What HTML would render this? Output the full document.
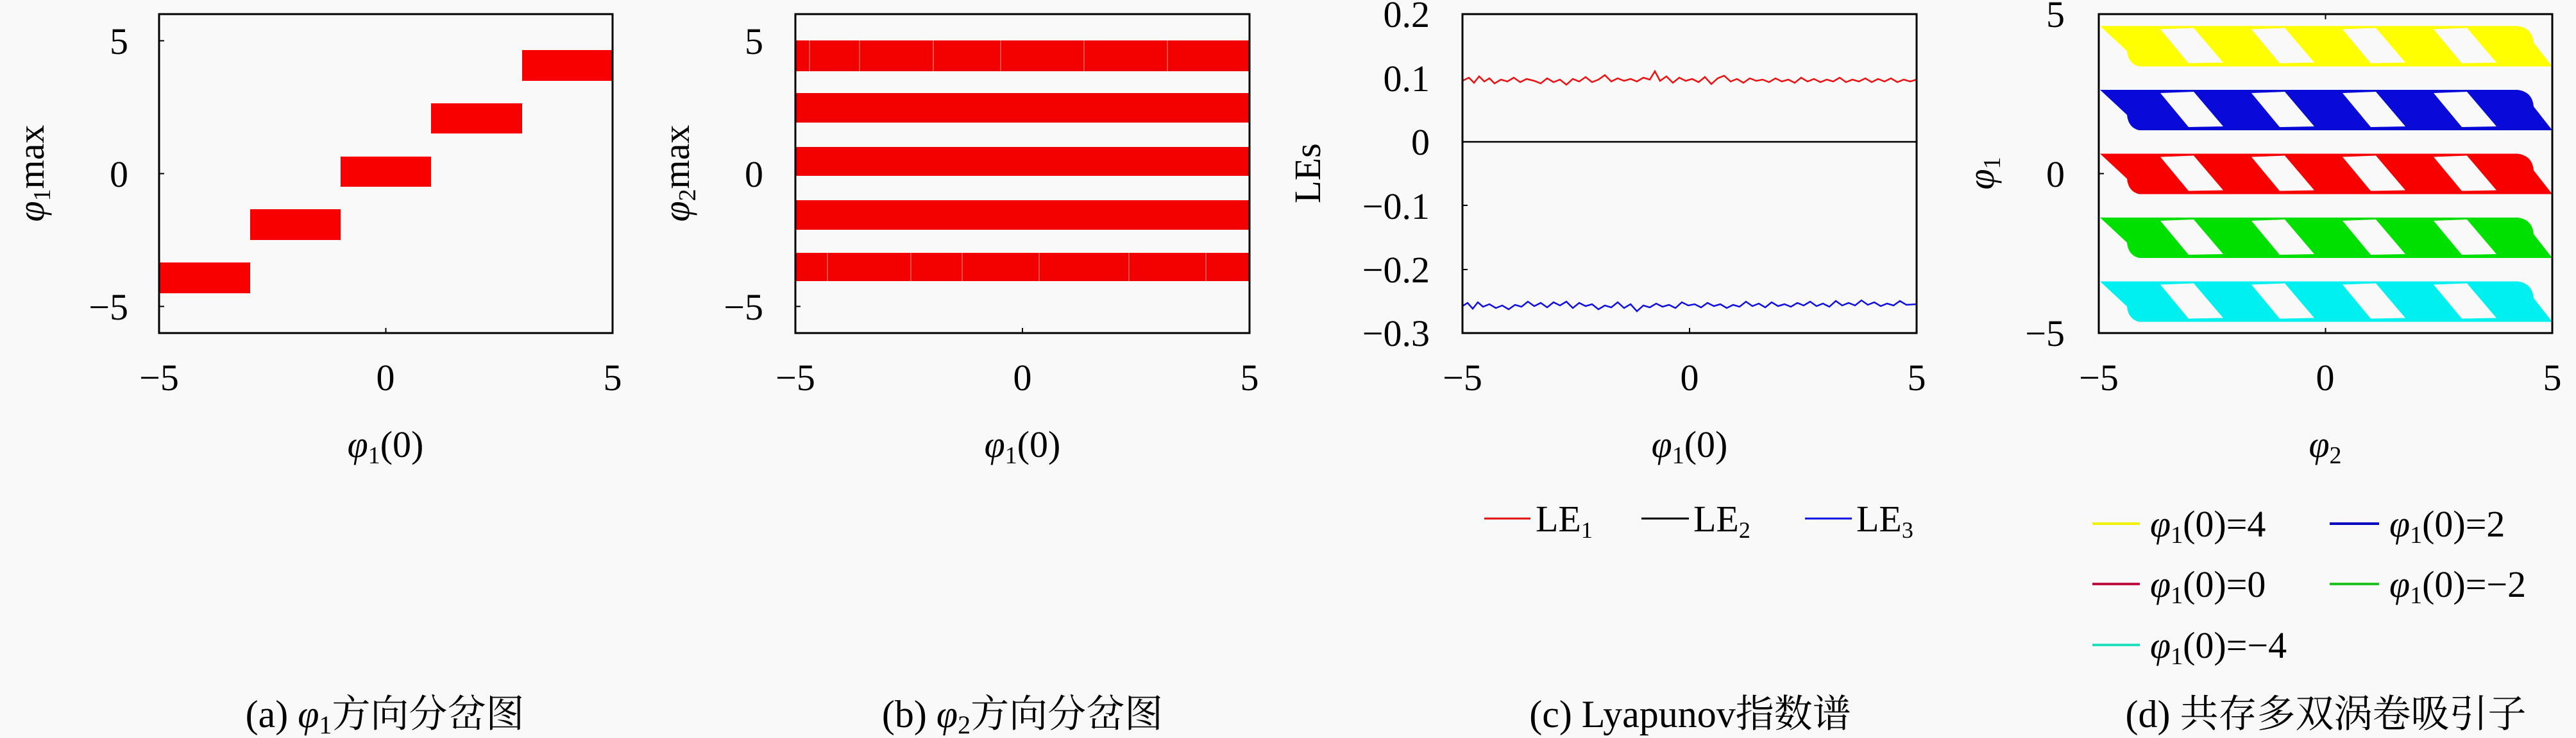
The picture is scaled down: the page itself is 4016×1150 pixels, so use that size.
<!DOCTYPE html>
<html><head><meta charset="utf-8"><style>
html,body{margin:0;padding:0;background:#f9f9f9;}
svg{display:block;}
text{font-family:"Liberation Serif","Noto Serif CJK SC",serif;fill:#000;}
.t{font-size:58px;}
.i{font-style:italic;}
.cap{font-size:60px;font-family:"Liberation Serif","Noto Serif CJK SC",serif;}
</style></head><body>
<svg width="4016" height="1150" viewBox="0 0 4016 1150" xmlns="http://www.w3.org/2000/svg">
<rect width="4016" height="1150" fill="#f9f9f9"/>

<!-- ===== (a) ===== -->
<g fill="#f80000">
<rect x="814" y="78" width="141" height="48"/>
<rect x="672" y="161" width="142" height="47"/>
<rect x="531" y="244" width="141" height="47"/>
<rect x="390" y="326" width="141" height="48"/>
<rect x="248" y="409" width="142" height="48"/>
</g>
<rect x="248" y="22" width="707" height="497" fill="none" stroke="#000" stroke-width="3"/>
<g stroke="#000" stroke-width="2">
<line x1="248" y1="63.5" x2="256" y2="63.5"/><line x1="248" y1="270.5" x2="256" y2="270.5"/><line x1="248" y1="477.5" x2="256" y2="477.5"/>
<line x1="601.5" y1="519" x2="601.5" y2="511"/>
</g>
<g class="t" text-anchor="end">
<text x="200" y="84">5</text><text x="200" y="291">0</text><text x="200" y="498">−5</text>
</g>
<g class="t" text-anchor="middle">
<text x="248" y="608">−5</text><text x="601" y="608">0</text><text x="955" y="608">5</text>
</g>
<text class="t" transform="translate(68,270) rotate(-90)" text-anchor="middle"><tspan class="i">φ</tspan><tspan font-size="38" dy="10">1</tspan><tspan dy="-10">max</tspan></text>
<text class="t" x="601" y="712" text-anchor="middle"><tspan class="i">φ</tspan><tspan font-size="38" dy="10">1</tspan><tspan dy="-10">(0)</tspan></text>
<text class="cap" x="600" y="1133" text-anchor="middle">(a) <tspan class="i">φ</tspan><tspan font-size="40" dy="10">1</tspan><tspan dy="-10">方向分岔图</tspan></text>

<!-- ===== (b) ===== -->
<g fill="#f20000">
<rect x="1240" y="63" width="708" height="48"/>
<rect x="1240" y="145" width="708" height="46"/>
<rect x="1240" y="229" width="708" height="45"/>
<rect x="1240" y="312" width="708" height="46"/>
<rect x="1240" y="394" width="708" height="44"/>
</g>
<g stroke="#ffb0a0" stroke-width="1.5" opacity="0.6">
<line x1="1262" y1="63" x2="1262" y2="111"/><line x1="1340" y1="63" x2="1340" y2="111"/><line x1="1455" y1="63" x2="1455" y2="111"/><line x1="1560" y1="63" x2="1560" y2="111"/><line x1="1690" y1="63" x2="1690" y2="111"/><line x1="1820" y1="63" x2="1820" y2="111"/>
<line x1="1290" y1="394" x2="1290" y2="438"/><line x1="1420" y1="394" x2="1420" y2="438"/><line x1="1500" y1="394" x2="1500" y2="438"/><line x1="1620" y1="394" x2="1620" y2="438"/><line x1="1760" y1="394" x2="1760" y2="438"/><line x1="1880" y1="394" x2="1880" y2="438"/>
</g>
<rect x="1240" y="22" width="708" height="497" fill="none" stroke="#000" stroke-width="3"/>
<g stroke="#000" stroke-width="2">
<line x1="1240" y1="477.5" x2="1248" y2="477.5"/><line x1="1594" y1="519" x2="1594" y2="511"/>
</g>
<g class="t" text-anchor="end">
<text x="1190" y="84">5</text><text x="1190" y="291">0</text><text x="1190" y="498">−5</text>
</g>
<g class="t" text-anchor="middle">
<text x="1240" y="608">−5</text><text x="1594" y="608">0</text><text x="1948" y="608">5</text>
</g>
<text class="t" transform="translate(1074,270) rotate(-90)" text-anchor="middle"><tspan class="i">φ</tspan><tspan font-size="38" dy="10">2</tspan><tspan dy="-10">max</tspan></text>
<text class="t" x="1594" y="712" text-anchor="middle"><tspan class="i">φ</tspan><tspan font-size="38" dy="10">1</tspan><tspan dy="-10">(0)</tspan></text>
<text class="cap" x="1594" y="1133" text-anchor="middle">(b) <tspan class="i">φ</tspan><tspan font-size="40" dy="10">2</tspan><tspan dy="-10">方向分岔图</tspan></text>

<!-- ===== (c) ===== -->
<line x1="2280" y1="221" x2="2988" y2="221" stroke="#000" stroke-width="2.5"/>
<polyline fill="none" stroke="#ee1010" stroke-width="2.5" points="2280,126 2290,121 2298,129 2306,119 2314,127 2322,122 2330,130 2340,124 2350,127 2360,121 2370,128 2380,123 2392,126 2402,130 2412,122 2422,128 2432,124 2442,132 2452,123 2462,127 2472,120 2482,128 2492,124 2502,117 2512,127 2522,122 2532,126 2542,123 2552,127 2562,121 2572,124 2580,111 2588,126 2598,119 2608,129 2618,121 2628,126 2638,123 2648,128 2658,120 2668,131 2678,122 2688,118 2698,127 2708,123 2718,129 2728,122 2738,126 2748,124 2758,128 2768,122 2778,127 2788,124 2798,129 2808,121 2818,127 2828,123 2838,128 2848,124 2858,127 2868,121 2878,128 2888,124 2898,127 2908,122 2918,128 2928,123 2938,127 2948,122 2958,128 2968,124 2978,127 2988,124"/>
<polyline fill="none" stroke="#1010e0" stroke-width="2.5" points="2280,477 2288,472 2296,481 2304,471 2312,478 2322,474 2332,480 2342,476 2352,482 2362,475 2372,478 2382,470 2392,477 2402,472 2412,479 2422,471 2432,476 2442,470 2452,480 2462,472 2472,477 2482,474 2492,482 2502,476 2512,479 2522,471 2532,480 2542,474 2552,485 2562,476 2572,479 2582,473 2592,478 2602,475 2612,480 2622,471 2632,476 2642,474 2652,479 2662,472 2672,477 2682,474 2692,480 2702,475 2712,478 2722,470 2732,477 2742,473 2752,479 2762,471 2772,477 2782,474 2792,478 2802,472 2812,476 2822,470 2832,477 2842,473 2852,478 2862,469 2872,476 2882,472 2892,476 2902,468 2912,475 2922,471 2932,477 2942,473 2952,476 2962,469 2972,475 2988,474"/>
<rect x="2280" y="22" width="708" height="497" fill="none" stroke="#000" stroke-width="3"/>
<g stroke="#000" stroke-width="2">
<line x1="2280" y1="320" x2="2288" y2="320"/><line x1="2280" y1="420" x2="2288" y2="420"/><line x1="2634" y1="519" x2="2634" y2="511"/>
</g>
<g class="t" text-anchor="end">
<text x="2229" y="42">0.2</text><text x="2229" y="142">0.1</text><text x="2229" y="241">0</text><text x="2229" y="341">−0.1</text><text x="2229" y="440">−0.2</text><text x="2229" y="539">−0.3</text>
</g>
<g class="t" text-anchor="middle">
<text x="2280" y="608">−5</text><text x="2634" y="608">0</text><text x="2988" y="608">5</text>
</g>
<text class="t" transform="translate(2058,270) rotate(-90)" text-anchor="middle">LEs</text>
<text class="t" x="2634" y="712" text-anchor="middle"><tspan class="i">φ</tspan><tspan font-size="38" dy="10">1</tspan><tspan dy="-10">(0)</tspan></text>
<g>
<line x1="2314" y1="808" x2="2386" y2="808" stroke="#e01010" stroke-width="3"/>
<text class="t" x="2394" y="828">LE<tspan font-size="36" dy="10">1</tspan></text>
<line x1="2559" y1="808" x2="2633" y2="808" stroke="#000" stroke-width="3"/>
<text class="t" x="2640" y="828">LE<tspan font-size="36" dy="10">2</tspan></text>
<line x1="2814" y1="808" x2="2887" y2="808" stroke="#1010e0" stroke-width="3"/>
<text class="t" x="2894" y="828">LE<tspan font-size="36" dy="10">3</tspan></text>
</g>
<text class="cap" x="2635" y="1133" text-anchor="middle">(c) Lyapunov指数谱</text>

<!-- ===== (d) ===== -->
<defs>
<g id="band">
<path d="M3274,-31 L3925,-31 Q3948,-28 3950,-5 L3979,32 L3335,32 Q3318,28 3316,8 Z"/>
</g>
</defs>
<g>
<g transform="translate(0,71.5)" fill="#ffff00"><use href="#band"/></g>
<g transform="translate(0,171)" fill="#0a0ad8"><use href="#band"/></g>
<g transform="translate(0,270.5)" fill="#f80000"><use href="#band"/></g>
<g transform="translate(0,370)" fill="#00e000"><use href="#band"/></g>
<g transform="translate(0,469.5)" fill="#00f0f0"><use href="#band"/></g>
</g>
<g fill="#f9f9f9">
<g id="holes">
<path d="M3368,-26 L3420,-28 L3466,26 L3412,27 Z"/>
<path d="M3510,-26 L3562,-28 L3608,26 L3554,27 Z"/>
<path d="M3652,-26 L3704,-28 L3750,26 L3696,27 Z"/>
<path d="M3794,-26 L3846,-28 L3892,26 L3838,27 Z"/>
</g>
<use href="#holes" transform="translate(0,71.5)"/>
<use href="#holes" transform="translate(0,171)"/>
<use href="#holes" transform="translate(0,270.5)"/>
<use href="#holes" transform="translate(0,370)"/>
<use href="#holes" transform="translate(0,469.5)"/>
</g>
<rect x="3272" y="22" width="707" height="497" fill="none" stroke="#000" stroke-width="3"/>
<g stroke="#000" stroke-width="2">
<line x1="3272" y1="270.5" x2="3280" y2="270.5"/><line x1="3625.5" y1="22" x2="3625.5" y2="30"/><line x1="3625.5" y1="519" x2="3625.5" y2="511"/>
</g>
<g class="t" text-anchor="end">
<text x="3219" y="42">5</text><text x="3219" y="291">0</text><text x="3219" y="539">−5</text>
</g>
<g class="t" text-anchor="middle">
<text x="3272" y="608">−5</text><text x="3625" y="608">0</text><text x="3979" y="608">5</text>
</g>
<text class="t" transform="translate(3108,270) rotate(-90)" text-anchor="middle"><tspan class="i">φ</tspan><tspan font-size="38" dy="10">1</tspan></text>
<text class="t" x="3625" y="712" text-anchor="middle"><tspan class="i">φ</tspan><tspan font-size="38" dy="10">2</tspan></text>
<g>
<line x1="3262" y1="816" x2="3336" y2="816" stroke="#f0f000" stroke-width="4"/>
<text class="t" x="3352" y="836"><tspan class="i">φ</tspan><tspan font-size="38" dy="10">1</tspan><tspan dy="-10">(0)=4</tspan></text>
<line x1="3632" y1="816" x2="3709" y2="816" stroke="#0000c0" stroke-width="4"/>
<text class="t" x="3725" y="836"><tspan class="i">φ</tspan><tspan font-size="38" dy="10">1</tspan><tspan dy="-10">(0)=2</tspan></text>
<line x1="3262" y1="910" x2="3336" y2="910" stroke="#c01040" stroke-width="4"/>
<text class="t" x="3352" y="930"><tspan class="i">φ</tspan><tspan font-size="38" dy="10">1</tspan><tspan dy="-10">(0)=0</tspan></text>
<line x1="3632" y1="910" x2="3709" y2="910" stroke="#20c020" stroke-width="4"/>
<text class="t" x="3725" y="930"><tspan class="i">φ</tspan><tspan font-size="38" dy="10">1</tspan><tspan dy="-10">(0)=−2</tspan></text>
<line x1="3262" y1="1005" x2="3336" y2="1005" stroke="#20e0c0" stroke-width="4"/>
<text class="t" x="3352" y="1025"><tspan class="i">φ</tspan><tspan font-size="38" dy="10">1</tspan><tspan dy="-10">(0)=−4</tspan></text>
</g>
<text class="cap" x="3626" y="1133" text-anchor="middle">(d) 共存多双涡卷吸引子</text>
</svg>
</body></html>
